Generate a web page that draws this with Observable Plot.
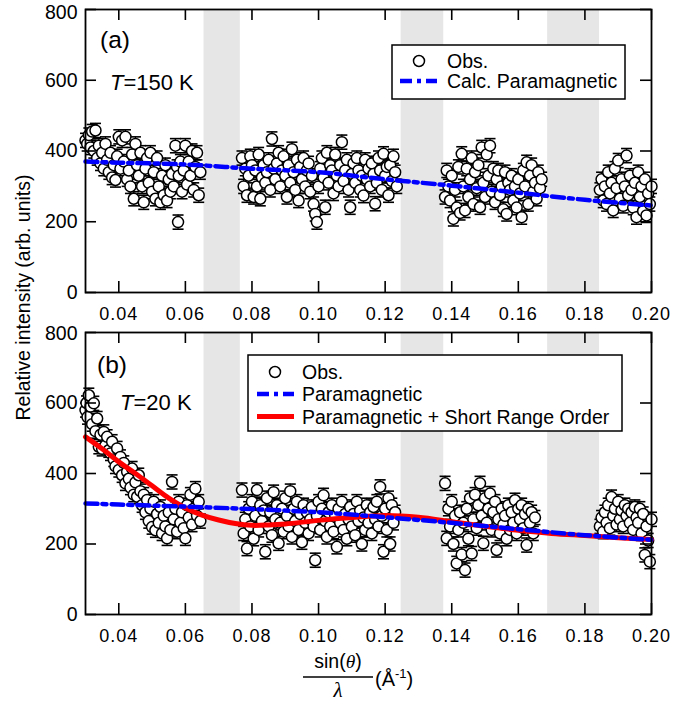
<!DOCTYPE html>
<html><head><meta charset="utf-8">
<script src="https://cdn.jsdelivr.net/npm/d3@7"></script>
<script src="https://cdn.jsdelivr.net/npm/@observablehq/plot@0.6"></script>
<style>
body{margin:0;background:#fff;}
#wrap{position:relative;width:696px;height:707px;overflow:hidden;font-family:"Liberation Sans",Arial,sans-serif;}
#pa,#pb,#ov{position:absolute;left:0;}
#pa{top:0}#pb{top:323px}#ov{top:0;pointer-events:none}
#pb svg{overflow:visible;}
g[aria-label="x-axis tick label"] text{font-size:18px;letter-spacing:1px;}
g[aria-label="y-axis tick label"] text{font-size:19.5px;}
</style></head><body>
<div id="wrap"><div id="pa"></div><div id="pb"></div><svg id="ov" width="696" height="707"></svg></div>
<script>
// ---- data ----
const xTicks = [0.04,0.06,0.08,0.10,0.12,0.14,0.16,0.18,0.20];
const yTicks = [0,200,400,600,800];
const bands = [[0.0656,0.0765],[0.1248,0.1376],[0.1688,0.1844]];
const ERR = 20;

// (a) T=150 K observed
const obsA = [
[0.0300,430],[0.0305,420],[0.0310,445],[0.0315,410],[0.0320,455],[0.0325,400],[0.0330,458],[0.0335,380],[0.0340,415],[0.0345,365],
[0.0350,395],[0.0355,350],[0.0360,420],[0.0365,375],[0.0370,340],[0.0375,395],[0.0380,325],[0.0385,360],[0.0390,318],[0.0395,385],
[0.0400,440],[0.0405,350],[0.0410,430],[0.0415,370],[0.0420,440],[0.0425,320],[0.0430,345],[0.0435,300],[0.0440,390],[0.0445,265],
[0.0450,420],[0.0455,360],[0.0460,330],[0.0465,395],[0.0470,300],[0.0475,255],[0.0480,350],[0.0485,380],[0.0490,310],[0.0495,395],
[0.0500,285],[0.0505,340],[0.0510,265],[0.0515,380],[0.0520,300],[0.0525,255],[0.0530,330],[0.0535,275],[0.0540,360],[0.0545,260],
[0.0550,320],[0.0555,285],[0.0560,335],[0.0565,300],[0.0570,415],[0.0575,355],[0.0578,199],[0.0580,330],[0.0585,370],[0.0590,285],
[0.0595,345],[0.0600,415],[0.0605,305],[0.0610,370],[0.0615,330],[0.0620,400],[0.0625,290],[0.0630,355],[0.0635,395],[0.0640,275],[0.0645,340],
[0.0770,380],[0.0775,300],[0.0780,350],[0.0785,275],[0.0790,330],[0.0795,385],[0.0800,360],[0.0805,270],[0.0810,345],[0.0815,300],
[0.0820,390],[0.0825,265],[0.0830,325],[0.0835,360],[0.0840,310],[0.0845,340],[0.0850,375],[0.0855,290],[0.0860,434],[0.0865,350],
[0.0870,320],[0.0875,365],[0.0880,395],[0.0885,300],[0.0890,345],[0.0895,385],[0.0900,330],[0.0905,270],[0.0910,360],[0.0915,310],
[0.0920,405],[0.0925,340],[0.0930,290],[0.0935,375],[0.0940,260],[0.0945,355],[0.0950,320],[0.0955,380],[0.0960,300],[0.0965,345],
[0.0970,365],[0.0975,285],[0.0980,330],[0.0985,250],[0.0990,222],[0.0995,199],[0.1000,300],[0.1005,350],[0.1010,380],[0.1015,325],
[0.1020,241],[0.1025,395],[0.1030,310],[0.1035,360],[0.1040,345],[0.1045,280],[0.1050,390],[0.1055,330],[0.1060,300],[0.1065,360],
[0.1070,425],[0.1075,315],[0.1080,345],[0.1085,375],[0.1090,290],[0.1095,241],[0.1100,335],[0.1105,365],[0.1110,310],[0.1115,380],
[0.1120,345],[0.1125,290],[0.1130,330],[0.1135,274],[0.1140,375],[0.1145,320],[0.1150,350],[0.1155,300],[0.1160,365],[0.1165,335],
[0.1170,251],[0.1175,310],[0.1180,380],[0.1185,345],[0.1190,290],[0.1195,392],[0.1200,330],[0.1205,355],[0.1210,275],[0.1215,360],
[0.1220,315],[0.1225,385],[0.1230,340],[0.1235,300],
[0.1380,270],[0.1385,345],[0.1390,300],[0.1395,260],[0.1400,330],[0.1405,208],[0.1410,290],[0.1415,240],[0.1420,355],[0.1425,225],
[0.1430,392],[0.1435,300],[0.1440,232],[0.1445,350],[0.1450,270],[0.1455,320],[0.1460,380],[0.1465,250],[0.1470,340],[0.1475,295],
[0.1480,360],[0.1485,241],[0.1490,410],[0.1495,310],[0.1500,270],[0.1505,390],[0.1510,330],[0.1515,415],[0.1520,285],[0.1525,350],
[0.1530,255],[0.1535,320],[0.1540,345],[0.1545,275],[0.1550,300],[0.1555,235],[0.1560,340],[0.1565,222],[0.1570,310],[0.1575,290],
[0.1580,330],[0.1585,260],[0.1590,300],[0.1595,240],[0.1600,320],[0.1605,280],[0.1610,213],[0.1615,345],[0.1620,300],[0.1625,368],
[0.1630,250],[0.1635,330],[0.1640,360],[0.1645,285],[0.1650,310],[0.1655,265],[0.1660,340],[0.1665,295],[0.1670,320],
[0.1845,290],[0.1850,320],[0.1855,260],[0.1860,300],[0.1865,250],[0.1870,340],[0.1875,280],[0.1880,310],[0.1885,232],[0.1890,350],
[0.1895,295],[0.1900,373],[0.1905,265],[0.1910,320],[0.1915,245],[0.1920,300],[0.1925,387],[0.1930,275],[0.1935,330],[0.1940,290],
[0.1945,240],[0.1950,310],[0.1955,213],[0.1960,340],[0.1965,270],[0.1970,300],[0.1975,230],[0.1980,320],[0.1985,218],[0.1990,280],
[0.1995,250],[0.2000,300]
];
// (a) calculated paramagnetic
const calcA = [[0.03,370],[0.04,367],[0.06,362],[0.08,350],[0.10,340],[0.12,320],[0.14,302],[0.16,282],[0.18,262],[0.20,246]];

// (b) T=20 K observed
const obsB = [
[0.0300,580],[0.0303,600],[0.0306,560],[0.0310,622],[0.0315,590],[0.0320,540],[0.0325,599],[0.0330,520],[0.0335,556],[0.0340,476],
[0.0345,510],[0.0350,470],[0.0355,518],[0.0360,480],[0.0365,504],[0.0370,466],[0.0375,457],[0.0380,490],[0.0385,440],[0.0390,420],
[0.0395,471],[0.0400,410],[0.0405,447],[0.0410,395],[0.0415,430],[0.0420,372],[0.0425,405],[0.0430,385],[0.0435,360],[0.0440,414],
[0.0445,340],[0.0450,375],[0.0455,334],[0.0460,395],[0.0465,350],[0.0470,310],[0.0475,340],[0.0480,290],[0.0485,325],[0.0490,265],
[0.0495,300],[0.0500,248],[0.0505,320],[0.0510,239],[0.0515,285],[0.0520,260],[0.0525,305],[0.0530,230],[0.0535,280],[0.0540,250],
[0.0545,216],[0.0550,290],[0.0555,240],[0.0560,376],[0.0565,270],[0.0570,300],[0.0575,235],[0.0580,320],[0.0585,260],[0.0590,290],
[0.0595,245],[0.0600,216],[0.0605,310],[0.0610,275],[0.0615,340],[0.0620,255],[0.0625,300],[0.0630,357],[0.0635,280],[0.0640,320],[0.0645,265],
[0.0770,353],[0.0775,230],[0.0780,270],[0.0785,187],[0.0790,300],[0.0795,250],[0.0800,320],[0.0805,215],[0.0810,280],[0.0815,353],
[0.0820,240],[0.0825,310],[0.0830,265],[0.0835,295],[0.0840,178],[0.0845,330],[0.0850,250],[0.0855,290],[0.0860,225],[0.0865,347],
[0.0870,270],[0.0875,310],[0.0880,202],[0.0885,260],[0.0890,300],[0.0895,235],[0.0900,330],[0.0905,280],[0.0910,250],[0.0915,350],
[0.0920,220],[0.0925,300],[0.0930,265],[0.0935,320],[0.0940,240],[0.0945,285],[0.0950,205],[0.0955,310],[0.0960,260],[0.0965,290],
[0.0970,230],[0.0975,270],[0.0980,305],[0.0985,250],[0.0990,154],[0.0995,280],[0.1000,320],[0.1005,240],[0.1010,300],[0.1015,338],
[0.1020,265],[0.1025,220],[0.1030,290],[0.1035,250],[0.1040,310],[0.1045,235],[0.1050,280],[0.1055,192],[0.1060,300],[0.1065,260],
[0.1070,320],[0.1075,240],[0.1080,285],[0.1085,215],[0.1090,270],[0.1095,305],[0.1100,250],[0.1105,285],[0.1110,225],[0.1115,320],
[0.1120,265],[0.1125,295],[0.1130,200],[0.1135,275],[0.1140,240],[0.1145,310],[0.1150,260],[0.1155,290],[0.1160,230],[0.1165,305],
[0.1170,270],[0.1175,320],[0.1180,250],[0.1185,362],[0.1190,280],[0.1195,178],[0.1200,300],[0.1205,240],[0.1210,330],[0.1215,200],
[0.1220,310],[0.1225,260],[0.1230,290],
[0.1380,372],[0.1385,216],[0.1390,300],[0.1395,250],[0.1400,320],[0.1405,200],[0.1410,280],[0.1415,145],[0.1420,240],[0.1425,290],
[0.1430,170],[0.1435,260],[0.1440,126],[0.1445,300],[0.1450,215],[0.1455,330],[0.1460,173],[0.1465,270],[0.1470,340],[0.1475,245],
[0.1480,310],[0.1485,372],[0.1490,280],[0.1495,202],[0.1500,330],[0.1505,260],[0.1510,300],[0.1515,343],[0.1520,240],[0.1525,290],
[0.1530,320],[0.1535,183],[0.1540,270],[0.1545,230],[0.1550,300],[0.1555,255],[0.1560,280],[0.1565,215],[0.1570,310],[0.1575,240],
[0.1580,290],[0.1585,260],[0.1590,324],[0.1595,230],[0.1600,300],[0.1605,270],[0.1610,310],[0.1615,245],[0.1620,285],[0.1625,197],
[0.1630,300],[0.1635,260],[0.1640,290],[0.1645,230],[0.1650,275],
[0.1845,250],[0.1850,275],[0.1855,235],[0.1860,290],[0.1865,260],[0.1870,310],[0.1875,245],[0.1880,333],[0.1885,280],[0.1890,300],
[0.1895,255],[0.1900,320],[0.1905,270],[0.1910,295],[0.1915,250],[0.1920,310],[0.1925,280],[0.1930,300],[0.1935,260],[0.1940,290],
[0.1945,240],[0.1950,305],[0.1955,275],[0.1960,260],[0.1965,300],[0.1970,230],[0.1975,285],[0.1980,169],[0.1985,250],[0.1990,210],
[0.1995,150],[0.2000,270]
];
// (b) paramagnetic and paramagnetic + short range order
const calcB = [[0.03,315],[0.04,312],[0.06,306],[0.08,299],[0.10,290],[0.12,276],[0.14,260],[0.16,242],[0.18,225],[0.20,212]];
const sroB = [[0.03,504],[0.035,470],[0.04,433],[0.045,400],[0.05,365],[0.055,330],[0.06,302],[0.065,282],[0.07,268],[0.075,258],
[0.08,253],[0.085,254],[0.09,257],[0.10,267],[0.11,275],[0.12,281],[0.13,276],[0.14,263],[0.15,250],[0.16,239],[0.17,230],[0.18,224],[0.19,218],[0.20,213]];

// ---- drawing ----
const W = 696, ML = 85, MR = 45, MT = 9;
const FONT = '"Liberation Sans", Arial, sans-serif';
const capSymbol = {draw(ctx) { ctx.moveTo(-5.5, 0); ctx.lineTo(5.5, 0); }};
const BLUE_DASH = "12,5,4,5";
const fmtY = d3.format("d");

function panel(obs, curves, height, mb, topShift) {
  const fh = height - MT - mb, fw = W - ML - MR;
  const pts = obs.map(([x, y]) => ({x, y}));
  const topTick = yTicks[yTicks.length - 1];
  return Plot.plot({
    width: W, height, marginLeft: ML, marginRight: MR, marginTop: MT, marginBottom: mb,
    style: {fontFamily: FONT, fontSize: "18px", color: "black", background: "white"},
    x: {domain: [0.03, 0.20], ticks: xTicks, tickFormat: d3.format(".2f"), tickSize: 0, tickPadding: 15, label: null},
    y: {domain: [0, 800], label: null},
    marks: [
      Plot.rect(bands, {x1: d => d[0], x2: d => d[1], fill: "#e6e6e6"}),
      Plot.ruleX(pts, {x: "x", y1: d => d.y - ERR, y2: d => d.y + ERR, stroke: "black", strokeWidth: 1.2}),
      Plot.dot(pts, {x: "x", y: d => d.y + ERR, symbol: capSymbol, fill: "none", stroke: "black", strokeWidth: 1.6}),
      Plot.dot(pts, {x: "x", y: d => d.y - ERR, symbol: capSymbol, fill: "none", stroke: "black", strokeWidth: 1.6}),
      Plot.dot(pts, {x: "x", y: "y", r: 5.5, fill: "white", stroke: "black", strokeWidth: 1.5}),
      ...curves,
      Plot.tickX(xTicks, {x: d => d, insetTop: fh - 11, stroke: "black", strokeWidth: 1.6}),
      Plot.tickX(xTicks, {x: d => d, insetBottom: fh - 11, stroke: "black", strokeWidth: 1.6}),
      Plot.tickY(yTicks, {y: d => d, insetRight: fw - 11, stroke: "black", strokeWidth: 1.6}),
      Plot.tickY(yTicks, {y: d => d, insetLeft: fw - 11, stroke: "black", strokeWidth: 1.6}),
      Plot.axisY(yTicks.filter(t => t !== topTick), {tickSize: 0, tickPadding: 8, tickFormat: fmtY, label: null}),
      Plot.axisY([topTick], {tickSize: 0, tickPadding: 8, tickFormat: fmtY, label: null, dy: topShift}),
      Plot.frame({stroke: "black", strokeWidth: 1.8})
    ]
  });
}

const blueA = Plot.line(calcA, {x: d => d[0], y: d => d[1], stroke: "#0000ff", strokeWidth: 4.5, strokeDasharray: BLUE_DASH, curve: "catmull-rom"});
const redB = Plot.line(sroB, {x: d => d[0], y: d => d[1], stroke: "#ff0000", strokeWidth: 5, curve: "catmull-rom"});
const blueB = Plot.line(calcB, {x: d => d[0], y: d => d[1], stroke: "#0000ff", strokeWidth: 4.5, strokeDasharray: BLUE_DASH, curve: "catmull-rom"});

document.getElementById("pa").append(panel(obsA, [blueA], 323, 31, 3));
document.getElementById("pb").append(panel(obsB, [redB, blueB], 384, 93, 1));

// ---- overlay texts / legends ----
const ov = d3.select("#ov").style("font-family", FONT);
ov.append("text").attr("transform", "translate(30,297.5) rotate(-90)").attr("text-anchor", "middle")
  .attr("font-size", 19.5).text("Relative intensity (arb. units)");

function label(x, y, txt) { ov.append("text").attr("x", x).attr("y", y).attr("font-size", 24.5).text(txt); }
function temp(x, y, rest) {
  const t = ov.append("text").attr("x", x).attr("y", y).attr("font-size", 22);
  t.append("tspan").attr("font-style", "italic").text("T");
  t.append("tspan").text(rest);
}
label(100, 48, "(a)"); temp(110, 90, "=150 K");
label(97, 373, "(b)"); temp(120, 410, "=20 K");

function legend(box, rows) {
  ov.append("rect").attr("x", box[0]).attr("y", box[1]).attr("width", box[2]).attr("height", box[3])
    .attr("fill", "white").attr("stroke", "black").attr("stroke-width", 1.5);
  for (const r of rows) {
    if (r.type === "dot") ov.append("circle").attr("cx", r.sx + 18).attr("cy", r.y).attr("r", 5.5)
      .attr("fill", "white").attr("stroke", "black").attr("stroke-width", 1.5);
    else ov.append("line").attr("x1", r.sx).attr("x2", r.sx + 37).attr("y1", r.y).attr("y2", r.y)
      .attr("stroke", r.color).attr("stroke-width", r.type === "dash" ? 4.5 : 5)
      .attr("stroke-dasharray", r.type === "dash" ? BLUE_DASH : null);
    ov.append("text").attr("x", r.tx).attr("y", r.y + 7).attr("font-size", 19.5).text(r.text);
  }
}
legend([392, 45, 233, 54], [
  {type: "dot", sx: 401, y: 61, tx: 447, text: "Obs."},
  {type: "dash", sx: 400, y: 81, tx: 447, color: "#0000ff", text: "Calc. Paramagnetic"}
]);
legend([248, 355, 374, 76], [
  {type: "dot", sx: 257, y: 372, tx: 302, text: "Obs."},
  {type: "dash", sx: 257, y: 394, tx: 302, color: "#0000ff", text: "Paramagnetic"},
  {type: "solid", sx: 257, y: 416.5, tx: 302, color: "#ff0000", text: "Paramagnetic + Short Range Order"}
]);

// x-axis label: sin(theta)/lambda (Å^-1)
const num = ov.append("text").attr("x", 338).attr("y", 668).attr("text-anchor", "middle").attr("font-size", 19.5);
num.append("tspan").text("sin(");
num.append("tspan").attr("font-family", '"Liberation Serif", serif').attr("font-style", "italic").text("θ");
num.append("tspan").text(")");
ov.append("line").attr("x1", 303).attr("x2", 373).attr("y1", 677).attr("y2", 677).attr("stroke", "black").attr("stroke-width", 1.3);
ov.append("text").attr("x", 338).attr("y", 697).attr("text-anchor", "middle").attr("font-size", 21)
  .attr("font-family", '"Liberation Serif", serif').attr("font-style", "italic").text("λ");
const unit = ov.append("text").attr("x", 375).attr("y", 686).attr("font-size", 20);
unit.append("tspan").text("(Å");
unit.append("tspan").attr("font-size", 13).attr("dy", -8).text("-1");
unit.append("tspan").attr("dy", 8).text(")");
</script></body></html>
